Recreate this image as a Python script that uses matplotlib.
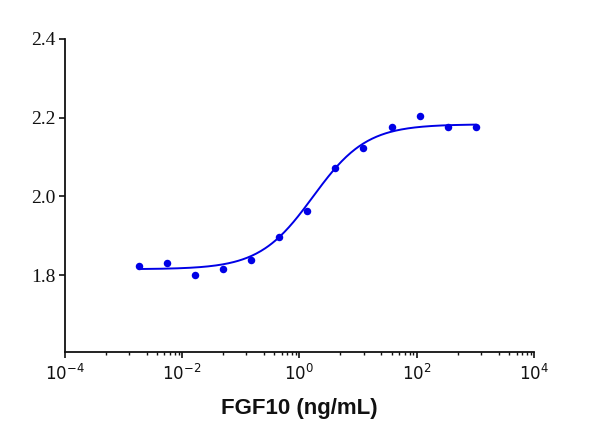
import numpy as np
import matplotlib
matplotlib.use('Agg')
import matplotlib.pyplot as plt
from matplotlib.ticker import FixedLocator, NullFormatter

plt.rcParams['mathtext.fontset'] = 'custom'
plt.rcParams['mathtext.rm'] = 'Liberation Sans'

# 3-fold serial dilution of FGF10, ng/mL
conc = [1000 / 3**k for k in range(12, -1, -1)]
response = [1.823, 1.832, 1.800, 1.815, 1.838, 1.896, 1.963,
            2.072, 2.122, 2.176, 2.204, 2.176, 2.177]

# 4PL fit parameters
fit_bottom = 1.815
fit_top = 2.183
fit_ec50 = 1.7
fit_hill = 0.95

xticks = [1e-4, 1e-2, 1e0, 1e2, 1e4]
xticklabels = [r'$\mathregular{10^{-4}}$', r'$\mathregular{10^{-2}}$',
               r'$\mathregular{10^{0}}$', r'$\mathregular{10^{2}}$',
               r'$\mathregular{10^{4}}$']
minor_factors = [5, 12.5, 25, 37.5, 50, 62.5, 75, 87.5]
yticks = [1.8, 2.0, 2.2, 2.4]

blue = '#0000e6'

fig = plt.figure(figsize=(6.0, 4.36), dpi=100)
ax = fig.add_axes([0.1075, 0.1933, 0.783, 0.7177])

xs = np.logspace(np.log10(conc[0]), np.log10(conc[-1]), 300)
ys = fit_bottom + (fit_top - fit_bottom) / (1 + (fit_ec50 / xs) ** fit_hill)
ax.plot(xs, ys, color=blue, lw=1.4)
ax.plot(conc, response, 'o', color=blue, ms=5.4, mec='none')

ax.set_xscale('log')
ax.set_xlim(1e-4, 1e4)
ax.set_ylim(1.6056, 2.4)

ax.xaxis.set_major_locator(FixedLocator(xticks))
ax.set_xticklabels(xticklabels)
minors = [m * b for b in xticks[:-1] for m in minor_factors]
ax.xaxis.set_minor_locator(FixedLocator(minors))
ax.xaxis.set_minor_formatter(NullFormatter())
ax.set_yticks(yticks)
ax.set_yticklabels(['%.1f' % v for v in yticks])

for s in ['top', 'right']:
    ax.spines[s].set_visible(False)
for s in ['left', 'bottom']:
    ax.spines[s].set_linewidth(1.3)
    ax.spines[s].set_color('#111111')

ax.tick_params(axis='x', which='major', length=4.5, width=1.2, pad=4,
               labelsize=12, colors='#111111')
ax.tick_params(axis='x', which='minor', length=2.5, width=1.0, colors='#111111')
ax.tick_params(axis='y', which='major', length=4.5, width=1.2, pad=2,
               labelsize=14, colors='#111111')
for lab in ax.get_yticklabels():
    lab.set_family('Liberation Serif')

ax.set_xlabel('FGF10 (ng/mL)', fontsize=16, fontweight='bold',
              family='Liberation Sans', labelpad=10, color='#111111')

fig.savefig('out.png', dpi=100)
